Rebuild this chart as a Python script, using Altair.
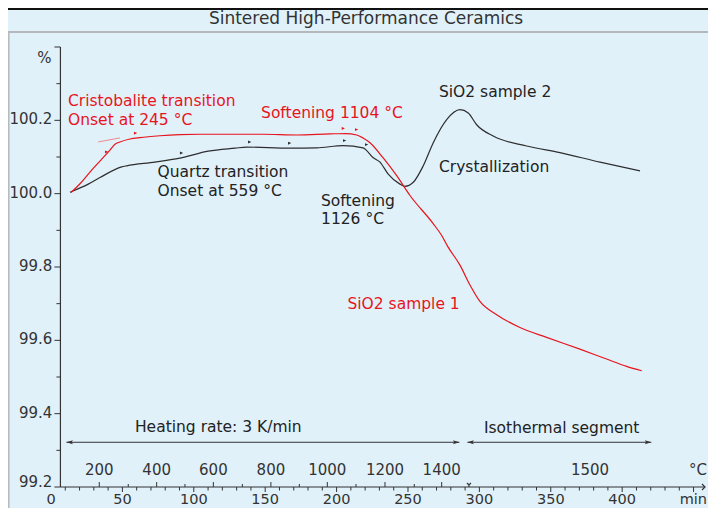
import altair as alt
import pandas as pd

# ---------------- data ----------------
# SiO2 sample 1 (red): time [min], relative length [%]
s1_min = [14.0, 20.3, 27.3, 34.3, 41.3, 44.8, 48.3, 55.3, 62.3, 76.3, 90.3, 104.3,
          125.4, 148.5, 172.1, 195.4, 206.2, 214.1, 218.5, 223.4, 232.5, 242.1,
          251.4, 267.5, 273.6, 278.0, 286.4, 293.4, 300.4, 312.1, 328.4, 347.1,
          370.4, 389.1, 403.1, 413.7]
s1_pct = [100.003, 100.027, 100.059, 100.089, 100.119, 100.135, 100.141, 100.149,
          100.153, 100.158, 100.161, 100.162, 100.162, 100.162, 100.160, 100.163,
          100.164, 100.160, 100.152, 100.139, 100.098, 100.049, 99.995, 99.919,
          99.886, 99.855, 99.805, 99.751, 99.706, 99.670, 99.635, 99.608, 99.576,
          99.549, 99.529, 99.517]

# SiO2 sample 2 (black)
s2_min = [13.3, 26.1, 34.3, 49.5, 53.0, 72.8, 90.3, 110.2, 128.9, 137.0, 167.4,
          186.1, 204.7, 218.5, 225.7, 230.4, 236.0, 244.4, 247.9, 253.7, 260.7,
          267.7, 277.1, 286.4, 292.2, 298.1, 309.7, 333.1, 356.4, 384.5, 412.5]
s2_pct = [100.004, 100.026, 100.044, 100.073, 100.076, 100.086, 100.097, 100.116,
          100.124, 100.127, 100.124, 100.125, 100.131, 100.125, 100.098, 100.086,
          100.054, 100.026, 100.020, 100.031, 100.076, 100.139, 100.202, 100.229,
          100.220, 100.188, 100.157, 100.130, 100.112, 100.086, 100.062]

# onset tangent of sample 1
tan_min = [33.0, 48.3]
tan_pct = [100.141, 100.152]

# evaluation flags on the curves
red_flag_min = [37.8, 58.1, 203.6, 212.9]
red_flag_pct = [100.100, 100.151, 100.164, 100.161]
blk_flag_min = [90.3, 138.0, 166.0, 204.5, 219.9]
blk_flag_pct = [100.097, 100.127, 100.124, 100.131, 100.120]

# annotations
red_text = ["Cristobalite transition", "Onset at 245 °C", "Softening 1104 °C", "SiO2 sample 1"]
red_text_min = [11.9, 11.9, 147.1, 207.6]
red_text_pct = [100.253, 100.200, 100.219, 99.700]
blk_text = ["Quartz transition", "Onset at 559 °C", "Softening", "1126 °C",
            "SiO2 sample 2", "Crystallization"]
blk_text_min = [74.6, 74.6, 189.1, 189.1, 271.7, 271.7]
blk_text_pct = [100.059, 100.008, 99.981, 99.930, 100.276, 100.073]

# segments
seg_text = ["Heating rate: 3 K/min", "Isothermal segment"]
seg_text_min = [58.8, 303.2]
seg_text_pct = [99.365, 99.362]
seg_start = [10.8, 291.6]
seg_end = [286.0, 420.4]
seg_pct = 99.322

# axes
y_major = [99.2, 99.4, 99.6, 99.8, 100.0, 100.2, 100.4]
y_minor = [99.3, 99.5, 99.7, 99.9, 100.1, 100.3]
y_labels = ["99.2", "99.4", "99.6", "99.8", "100.0", "100.2"]
x_major = [50, 100, 150, 200, 250, 300, 350, 400, 450]
x_minor = [v for v in range(10, 451, 10) if v % 50 != 0]
x_label_vals = [0, 50, 100, 150, 200, 250, 300, 350, 400]
temp_vals = [200, 300, 400, 500, 600, 700, 800, 900, 1000, 1100, 1200, 1300, 1400]
temp_min = [33.8, 54.1, 74.0, 93.8, 113.7, 134.0, 154.0, 173.9, 193.5, 213.6,
            233.9, 254.4, 273.6]
iso_temp = 1500
iso_start_min = 292.7
iso_label_min = 377.5
temp_label_pct = 99.246

TITLE = "Sintered High-Performance Ceramics"

# ---------------- layout / style ----------------
X_MAX = 458.0
Y_LO, Y_HI = 99.2, 100.4
W, H = 654, 440
PXM = W / X_MAX            # px per minute
PXP = H / (Y_HI - Y_LO)    # px per percent
Y_AXIS_AT = 6.6            # minutes where the y axis is drawn

FONT = "DejaVu Sans"
RED = "#e8141c"
BLK = "#2e2e2e"
AX = "#333333"
BG = "#e0f1fa"

xs = alt.Scale(domain=[0, X_MAX], nice=False, zero=False)
ys = alt.Scale(domain=[Y_LO, Y_HI], nice=False, zero=False)


def X(f="x"):
    return alt.X(f"{f}:Q", scale=xs, axis=None)


def Y(f="y"):
    return alt.Y(f"{f}:Q", scale=ys, axis=None)


def dmin(px):
    return px / PXM


def dpct(px):
    return px / PXP


layers = []

# frame decorations
one = pd.DataFrame({"t": [TITLE]})
layers.append(alt.Chart(one).mark_rule(color="#111111", strokeWidth=2).encode(
    x=alt.value(-43), x2=alt.value(W + 3), y=alt.value(-38)))
layers.append(alt.Chart(one).mark_rule(color="#b4b8bb", strokeWidth=2).encode(
    x=alt.value(-43), x2=alt.value(W + 3), y=alt.value(-15)))
layers.append(alt.Chart(one).mark_rule(color="#b4b8bb", strokeWidth=1.5).encode(
    x=alt.value(-42.2), y=alt.value(-15), y2=alt.value(H + 21)))
layers.append(alt.Chart(one).mark_text(font=FONT, fontSize=17, color="#333333",
                                      align="center", baseline="middle").encode(
    x=alt.value(315), y=alt.value(-28.5), text="t:N"))

# y axis
layers.append(alt.Chart(pd.DataFrame({"x": [Y_AXIS_AT], "y": [Y_LO], "y2": [Y_HI]}))
              .mark_rule(color=AX, strokeWidth=1.2)
              .encode(x=X(), y=Y(), y2="y2:Q"))
ymaj = pd.DataFrame({"y": y_major, "x": Y_AXIS_AT - dmin(6), "x2": Y_AXIS_AT})
ymin = pd.DataFrame({"y": y_minor, "x": Y_AXIS_AT - dmin(4), "x2": Y_AXIS_AT})
for d in (ymaj, ymin):
    layers.append(alt.Chart(d).mark_rule(color=AX, strokeWidth=1)
                  .encode(x=X(), x2="x2:Q", y=Y()))
ylab = pd.DataFrame({"y": y_major[1:-1], "t": y_labels[1:], "x": Y_AXIS_AT - dmin(6)})
layers.append(alt.Chart(ylab).mark_text(font=FONT, fontSize=15, color=AX, align="right",
                                        baseline="middle", dx=-2, dy=-1)
              .encode(x=X(), y=Y(), text="t:N"))
ylab0 = pd.DataFrame({"y": y_major[:1], "t": y_labels[:1], "x": Y_AXIS_AT - dmin(6)})
layers.append(alt.Chart(ylab0).mark_text(font=FONT, fontSize=15, color=AX, align="right",
                                         baseline="middle", dx=-2, dy=-5)
              .encode(x=X(), y=Y(), text="t:N"))
layers.append(alt.Chart(pd.DataFrame({"y": [Y_HI], "t": ["%"], "x": Y_AXIS_AT - dmin(6)}))
              .mark_text(font=FONT, fontSize=15, color=AX, align="right", baseline="top",
                         dx=-3, dy=4)
              .encode(x=X(), y=Y(), text="t:N"))

# x axis
layers.append(alt.Chart(pd.DataFrame({"x": [Y_AXIS_AT], "x2": [X_MAX], "y": [Y_LO]}))
              .mark_rule(color=AX, strokeWidth=1.2)
              .encode(x=X(), x2="x2:Q", y=Y()))
layers.append(alt.Chart(pd.DataFrame({"x": [X_MAX], "y": [Y_LO]}))
              .mark_point(shape="M-1,-1L0,0L-1,1", filled=False, size=36, color=AX,
                          strokeWidth=1.2, opacity=1)
              .encode(x=X(), y=Y()))
xmaj = pd.DataFrame({"x": x_major, "y": Y_LO, "y2": Y_LO - dpct(5)})
xmin_ = pd.DataFrame({"x": x_minor, "y": Y_LO, "y2": Y_LO - dpct(3.5)})
tmaj = pd.DataFrame({"x": temp_min[::2], "y": Y_LO, "y2": Y_LO + dpct(5)})
tmin = pd.DataFrame({"x": temp_min[1::2], "y": Y_LO, "y2": Y_LO + dpct(3)})
for d in (xmaj, xmin_, tmaj, tmin):
    layers.append(alt.Chart(d).mark_rule(color=AX, strokeWidth=1)
                  .encode(x=X(), y=Y(), y2="y2:Q"))
layers.append(alt.Chart(pd.DataFrame({"x": [iso_start_min], "y": [Y_LO]}))
              .mark_point(shape="M-1,-2L0,-1L1,-2M0,-1L0,0", filled=False, size=16,
                          color=AX, strokeWidth=1.2, opacity=1)
              .encode(x=X(), y=Y()))
xlab = pd.DataFrame({"x": x_label_vals, "t": [str(v) for v in x_label_vals], "y": Y_LO})
layers.append(alt.Chart(xlab).mark_text(font=FONT, fontSize=14.5, color=AX, align="center",
                                        baseline="alphabetic", dy=17)
              .encode(x=X(), y=Y(), text="t:N"))
layers.append(alt.Chart(pd.DataFrame({"x": [X_MAX + dmin(2)], "t": ["min"], "y": [Y_LO]}))
              .mark_text(font=FONT, fontSize=14.5, color=AX, align="right",
                         baseline="alphabetic", dy=17)
              .encode(x=X(), y=Y(), text="t:N"))
tlab = pd.DataFrame({"x": temp_min[::2] + [iso_label_min],
                     "t": [str(v) for v in temp_vals[::2]] + [str(iso_temp)],
                     "y": temp_label_pct})
layers.append(alt.Chart(tlab).mark_text(font=FONT, fontSize=15, color=AX, align="center",
                                        baseline="middle")
              .encode(x=X(), y=Y(), text="t:N"))
layers.append(alt.Chart(pd.DataFrame({"x": [X_MAX + dmin(2)], "t": ["°C"], "y": [temp_label_pct]}))
              .mark_text(font=FONT, fontSize=15, color=AX, align="right", baseline="middle")
              .encode(x=X(), y=Y(), text="t:N"))

# segment arrows
seg = pd.DataFrame({"x": seg_start, "x2": seg_end, "y": seg_pct})
layers.append(alt.Chart(seg).mark_rule(color=AX, strokeWidth=1)
              .encode(x=X(), x2="x2:Q", y=Y()))
layers.append(alt.Chart(pd.DataFrame({"x": seg_start, "y": seg_pct}))
              .mark_point(shape="M0,0L2,-0.6L1.6,0L2,0.6Z", filled=True, size=42, color=AX,
                          opacity=1)
              .encode(x=X(), y=Y()))
layers.append(alt.Chart(pd.DataFrame({"x": seg_end, "y": seg_pct}))
              .mark_point(shape="M0,0L-2,-0.6L-1.6,0L-2,0.6Z", filled=True, size=42, color=AX,
                          opacity=1)
              .encode(x=X(), y=Y()))
layers.append(alt.Chart(pd.DataFrame({"x": seg_text_min, "y": seg_text_pct, "t": seg_text}))
              .mark_text(font=FONT, fontSize=15.5, color="#222222", align="left",
                         baseline="middle")
              .encode(x=X(), y=Y(), text="t:N"))

# curves
layers.append(alt.Chart(pd.DataFrame({"x": tan_min, "y": tan_pct}))
              .mark_line(color="#f08a8a", strokeWidth=1)
              .encode(x=X(), y=Y()))
layers.append(alt.Chart(pd.DataFrame({"x": s2_min, "y": s2_pct}))
              .mark_line(color=BLK, strokeWidth=1.2, interpolate="monotone")
              .encode(x=X(), y=Y()))
layers.append(alt.Chart(pd.DataFrame({"x": s1_min, "y": s1_pct}))
              .mark_line(color=RED, strokeWidth=1.2, interpolate="monotone")
              .encode(x=X(), y=Y()))

FLAG = "M0,0L0,-2L1,-1.6L0,-1.1Z"
layers.append(alt.Chart(pd.DataFrame({"x": blk_flag_min, "y": blk_flag_pct}))
              .mark_point(shape=FLAG, filled=True, size=42, color=BLK, opacity=1)
              .encode(x=X(), y=Y()))
layers.append(alt.Chart(pd.DataFrame({"x": red_flag_min, "y": red_flag_pct}))
              .mark_point(shape=FLAG, filled=True, size=42, color=RED, opacity=1)
              .encode(x=X(), y=Y()))

# annotations
layers.append(alt.Chart(pd.DataFrame({"x": red_text_min, "y": red_text_pct, "t": red_text}))
              .mark_text(font=FONT, fontSize=15.5, color=RED, align="left", baseline="middle")
              .encode(x=X(), y=Y(), text="t:N"))
layers.append(alt.Chart(pd.DataFrame({"x": blk_text_min, "y": blk_text_pct, "t": blk_text}))
              .mark_text(font=FONT, fontSize=15.5, color="#222222", align="left",
                         baseline="middle")
              .encode(x=X(), y=Y(), text="t:N"))

chart = alt.layer(*layers).properties(
    width=W, height=H, background=BG,
    padding={"left": 43, "top": 39, "right": 3, "bottom": 21},
    autosize=alt.AutoSizeParams(type="none"),
).configure_view(stroke=None)

chart.save("out.html", embed_options={"renderer": "svg", "actions": False})
